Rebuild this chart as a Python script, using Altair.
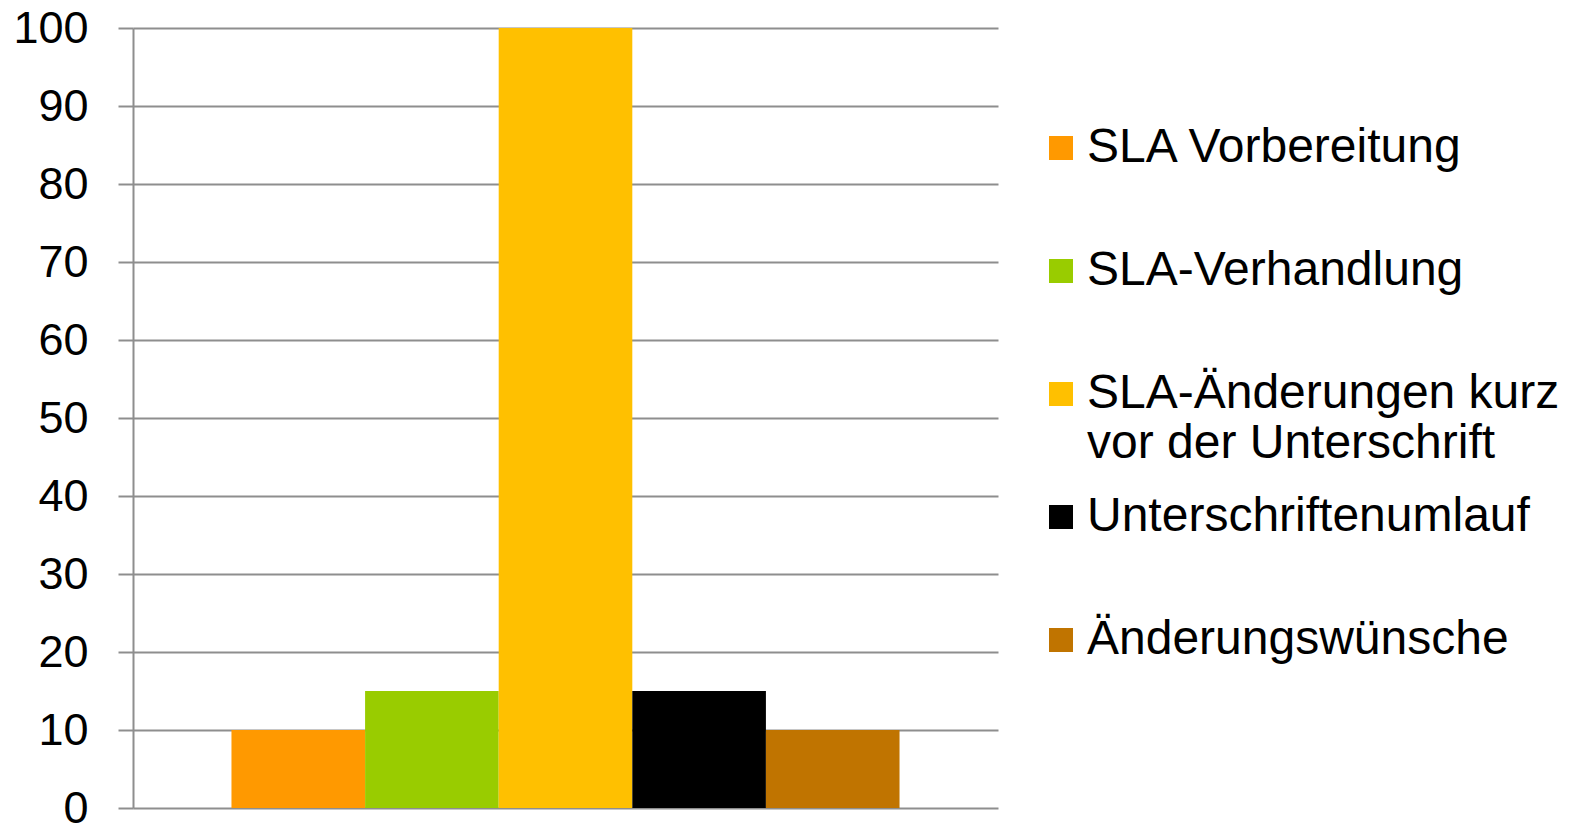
import altair as alt
import pandas as pd

categories = ["SLA Vorbereitung", "SLA-Verhandlung",
              "SLA-Änderungen kurz vor der Unterschrift",
              "Unterschriftenumlauf", "Änderungswünsche"]
values = [10, 15, 100, 15, 10]
colors = ["#FF9900", "#99CC00", "#FFC000", "#000000", "#C07400"]
y_ticks = [0, 10, 20, 30, 40, 50, 60, 70, 80, 90, 100]

df = pd.DataFrame({"Serie": categories, "Wert": values})

FONT = "Liberation Sans"
long_label = categories[2]
label_expr = (
    f"datum.label == '{long_label}' ? ['SLA-Änderungen kurz', 'vor der Unterschrift'] "
    ": [datum.label, ' ']"
)

chart = alt.Chart(df).mark_bar().encode(
    x=alt.X("Serie:N", sort=categories, axis=None,
            scale=alt.Scale(paddingInner=0, paddingOuter=0.737)),
    y=alt.Y("Wert:Q", scale=alt.Scale(domain=[0, 100], nice=False),
            axis=alt.Axis(values=y_ticks, title=None, labelFontSize=45, labelFont=FONT,
                          labelColor="#000000", labelPadding=30, tickSize=15,
                          tickColor="#8E8E8E", tickWidth=2, gridColor="#8E8E8E",
                          gridWidth=2, domainColor="#8E8E8E", domainWidth=2,
                          grid=True)),
    color=alt.Color("Serie:N", sort=categories,
                    scale=alt.Scale(domain=categories, range=colors),
                    legend=alt.Legend(orient="none", legendX=904, legendY=96,
                                      direction="vertical", title=None,
                                      labelFontSize=48, labelFont=FONT, labelColor="#000000",
                                      labelLimit=800, labelOffset=2,
                                      labelExpr=label_expr,
                                      symbolType="square", symbolSize=576,
                                      symbolStrokeWidth=0, symbolOpacity=1,
                                      rowPadding=25, padding=0)),
).properties(
    width=865, height=780,
    padding={"left": 125, "top": 20, "right": 565, "bottom": 16},
    autosize=alt.AutoSizeParams(type="none"),
).configure_view(stroke=None).configure_axisY(domain=True)

chart.save("out.html", embed_options={"renderer": "svg", "actions": False})
